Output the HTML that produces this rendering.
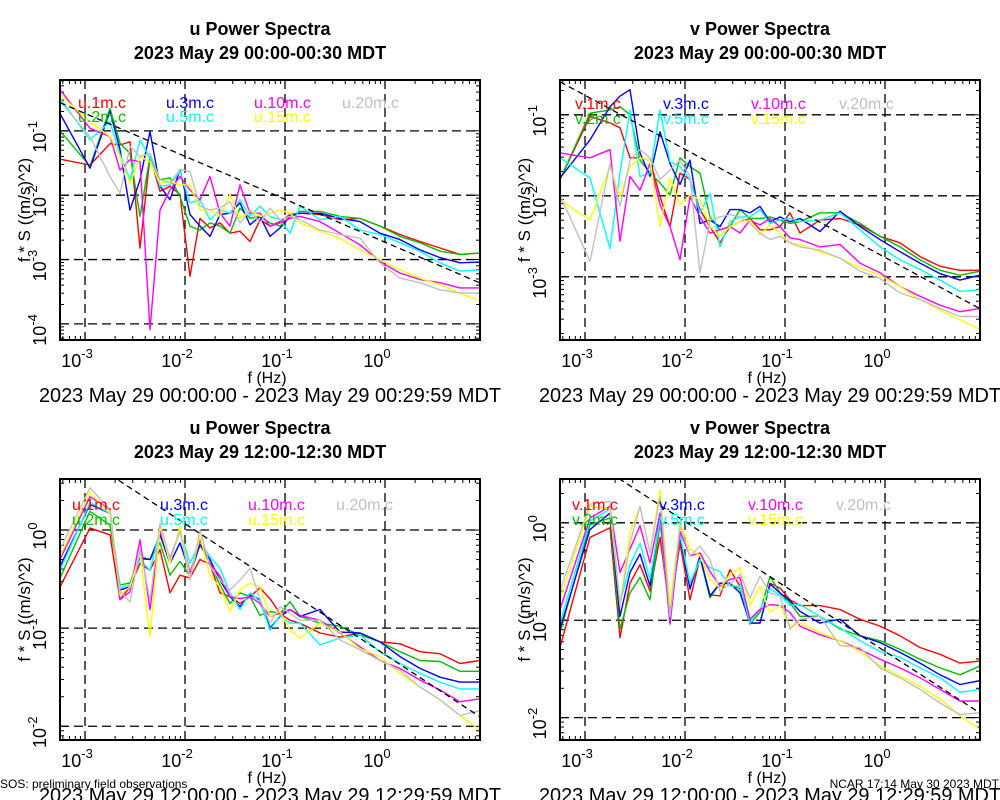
<!DOCTYPE html>
<html><head><meta charset="utf-8">
<style>
html,body{margin:0;padding:0;background:#fff;}
svg{display:block;font-family:"Liberation Sans",Arial,sans-serif;}
</style></head>
<body>
<svg id="chart" width="1000" height="800" viewBox="0 0 1000 800" xmlns="http://www.w3.org/2000/svg">
<rect x="0" y="0" width="1000" height="800" fill="#fff"/>
</svg>
<script>
// ---- Data (log10 frequency, log10 f*S) ----
const freqLog = [-3.25,-2.95,-2.75,-2.65,-2.55,-2.45,-2.35,-2.25,-2.15,-2.05,-1.95,-1.85,-1.75,-1.65,-1.55,-1.45,-1.35,-1.25,-1.15,-1.05,-0.95,-0.85,-0.65,-0.45,-0.25,-0.05,0.15,0.35,0.55,0.75,0.95];
const seriesHeights = ["1m","2m","3m","5m","10m","15m","20m"];
const xTickExps = [-3,-2,-1,0];

// Top-left: u 00:00
const uA_1m  = [-1.44,-1.53,-1.20,-1.22,-1.17,-2.82,-1.40,-1.94,-1.86,-1.99,-3.26,-2.36,-2.51,-2.43,-2.59,-2.56,-2.72,-2.38,-2.48,-2.41,-2.30,-2.28,-2.30,-2.38,-2.36,-2.48,-2.61,-2.72,-2.82,-2.92,-2.90];
const uA_2m  = [-1.00,-1.55,-0.65,-1.19,-1.35,-2.33,-1.40,-1.76,-1.73,-2.02,-2.48,-2.54,-2.43,-2.48,-2.59,-2.20,-2.36,-2.33,-2.43,-2.48,-2.33,-2.25,-2.25,-2.33,-2.36,-2.48,-2.64,-2.74,-2.87,-2.92,-2.90];
const uA_3m  = [-0.73,-1.58,-0.70,-1.29,-2.23,-1.76,-1.01,-1.86,-2.07,-1.60,-2.30,-2.48,-2.64,-2.30,-2.28,-2.12,-2.46,-2.33,-2.64,-2.51,-2.33,-2.28,-2.28,-2.36,-2.41,-2.59,-2.69,-2.85,-2.97,-3.05,-3.04];
const uA_5m  = [-0.49,-1.14,-0.86,-1.37,-1.76,-1.14,-1.42,-1.86,-1.84,-1.63,-2.12,-2.07,-2.38,-2.23,-2.28,-2.07,-2.33,-2.17,-2.33,-2.38,-2.59,-2.17,-2.38,-2.33,-2.54,-2.61,-2.74,-2.87,-3.05,-3.18,-3.16];
const uA_10m = [-0.36,-0.96,-1.09,-1.61,-1.45,-1.48,-4.09,-2.23,-1.92,-1.71,-1.92,-2.07,-1.71,-2.28,-2.48,-1.84,-2.28,-2.28,-2.48,-2.43,-2.36,-2.33,-2.41,-2.59,-2.77,-3.03,-3.21,-3.31,-3.36,-3.44,-3.44];
const uA_15m = [-0.44,-0.86,-1.09,-1.40,-1.81,-1.40,-1.48,-1.81,-1.79,-1.84,-1.84,-2.23,-2.23,-2.33,-1.99,-2.36,-2.23,-2.33,-2.28,-2.23,-2.28,-2.43,-2.56,-2.67,-2.85,-3.00,-3.16,-3.29,-3.39,-3.52,-3.65];
const uA_20m = [-0.54,-1.09,-1.71,-1.97,-1.24,-1.40,-1.35,-1.76,-1.81,-1.60,-1.63,-2.17,-2.23,-2.20,-2.10,-2.43,-2.23,-2.43,-2.20,-2.38,-2.33,-2.38,-2.54,-2.61,-2.67,-3.05,-3.29,-3.36,-3.47,-3.52,-3.52];

// Top-right: v 00:00
const vA_1m  = [-1.80,-1.02,-1.10,-1.16,-1.53,-1.53,-1.56,-2.01,-2.38,-1.72,-1.80,-2.17,-2.38,-2.58,-2.38,-2.32,-2.28,-2.42,-2.42,-2.38,-2.21,-2.46,-2.30,-2.28,-2.36,-2.50,-2.58,-2.75,-2.87,-2.92,-2.92];
const vA_2m  = [-1.80,-0.98,-0.94,-0.90,-1.00,-1.56,-1.72,-1.84,-1.99,-1.53,-1.64,-1.72,-2.26,-2.42,-2.38,-2.17,-2.28,-2.28,-2.26,-2.30,-2.34,-2.32,-2.21,-2.21,-2.34,-2.50,-2.63,-2.79,-2.92,-2.98,-2.93];
const vA_3m  = [-1.78,-1.31,-0.90,-0.77,-0.69,-1.47,-1.76,-1.21,-1.60,-1.86,-1.56,-2.34,-2.30,-2.38,-2.17,-2.17,-2.21,-2.13,-2.32,-2.26,-2.32,-2.28,-2.44,-2.19,-2.38,-2.54,-2.69,-2.83,-2.96,-3.04,-2.98];
const vA_5m  = [-1.53,-1.78,-2.65,-1.72,-0.94,-1.76,-1.72,-0.94,-1.58,-1.64,-1.80,-2.21,-1.97,-2.63,-2.32,-2.26,-2.26,-2.17,-2.34,-2.30,-2.28,-2.32,-2.30,-2.21,-2.42,-2.63,-2.79,-2.91,-3.04,-3.18,-3.16];
const vA_10m = [-1.47,-1.53,-1.43,-2.56,-1.76,-1.93,-1.60,-2.11,-2.38,-2.79,-2.01,-2.26,-2.46,-2.42,-2.38,-2.46,-2.30,-2.36,-2.28,-2.38,-2.52,-2.54,-2.63,-2.60,-2.83,-2.95,-3.12,-3.24,-3.35,-3.43,-3.39];
const vA_15m = [-2.05,-2.30,-1.64,-2.01,-1.64,-1.53,-1.56,-2.38,-1.78,-2.11,-1.99,-2.05,-2.38,-2.50,-2.38,-2.32,-2.30,-2.48,-2.36,-2.46,-2.58,-2.60,-2.69,-2.77,-2.89,-2.98,-3.12,-3.28,-3.41,-3.53,-3.65];
const vA_20m = [-1.99,-2.81,-1.60,-2.13,-1.56,-1.43,-1.53,-1.80,-1.68,-1.56,-1.76,-2.95,-2.30,-2.26,-2.23,-2.26,-2.34,-2.46,-2.54,-2.50,-2.58,-2.63,-2.67,-2.77,-2.93,-3.02,-3.20,-3.28,-3.39,-3.49,-3.49];

// Bottom-left: u 12:00
const uB_1m  = [-0.58,0.02,-0.05,-0.71,-0.58,-0.34,-0.41,-0.20,-0.64,-0.46,-0.49,-0.30,-0.35,-0.64,-0.68,-0.75,-0.68,-0.59,-0.70,-0.85,-0.92,-0.95,-1.05,-1.09,-1.05,-1.14,-1.16,-1.24,-1.26,-1.36,-1.33];
const uB_2m  = [-0.49,0.19,0.05,-0.56,-0.54,-0.27,-0.30,-0.13,-0.46,-0.32,-0.47,-0.15,-0.34,-0.56,-0.75,-0.64,-0.68,-0.87,-0.83,-0.85,-0.73,-0.88,-0.95,-0.98,-1.07,-1.14,-1.24,-1.33,-1.34,-1.44,-1.44];
const uB_3m  = [-0.37,0.26,0.17,-0.61,-0.58,-0.29,-0.30,-0.05,-0.34,-0.13,-0.44,-0.15,-0.30,-0.51,-0.68,-0.78,-0.66,-0.71,-1.00,-0.88,-0.81,-0.88,-0.81,-1.04,-1.05,-1.14,-1.29,-1.41,-1.50,-1.55,-1.55];
const uB_5m  = [-0.41,0.28,0.17,-0.59,-0.56,-0.30,-0.41,0.00,-0.29,0.00,-0.34,-0.12,-0.27,-0.39,-0.64,-0.81,-0.64,-0.73,-1.02,-0.87,-0.95,-0.95,-1.17,-1.10,-1.07,-1.24,-1.36,-1.46,-1.55,-1.62,-1.62];
const uB_10m = [-0.30,0.34,0.21,-0.71,-0.63,-0.10,-0.81,-0.01,-0.29,-0.01,-0.44,-0.10,-0.34,-0.47,-0.68,-0.70,-0.68,-0.75,-0.88,-0.85,-0.81,-0.87,-0.92,-1.05,-1.19,-1.33,-1.41,-1.53,-1.63,-1.75,-1.72];
const uB_15m = [-0.27,0.38,0.17,-0.66,-0.58,-0.24,-1.09,0.04,-0.34,0.04,-0.49,-0.06,-0.47,-0.58,-0.83,-0.61,-0.54,-0.58,-0.88,-0.83,-1.02,-1.10,-0.95,-1.04,-1.21,-1.29,-1.46,-1.60,-1.73,-1.89,-2.04];
const uB_20m = [-0.20,0.43,0.21,-0.63,-0.73,-0.20,-0.71,0.07,-0.30,-0.01,-0.51,0.00,-0.37,-0.51,-0.61,-0.51,-0.39,-0.71,-0.95,-0.78,-0.85,-0.92,-0.92,-1.12,-1.22,-1.33,-1.43,-1.60,-1.73,-1.89,-1.84];

// Bottom-right: v 12:00
const vB_1m  = [-1.28,-0.15,-0.05,-1.18,-0.62,-0.43,-0.70,-0.15,-0.92,-0.21,-0.79,-0.36,-0.74,-0.75,-0.48,-0.65,-1.03,-1.03,-0.62,-0.67,-0.79,-0.85,-0.85,-0.89,-0.99,-1.06,-1.16,-1.28,-1.35,-1.44,-1.42];
const vB_2m  = [-1.13,-0.02,0.05,-1.09,-0.72,-0.56,-0.79,0.00,-0.96,-0.14,-0.67,-0.36,-0.77,-0.62,-0.63,-0.68,-1.04,-0.92,-0.55,-0.72,-0.82,-0.96,-0.96,-1.09,-1.16,-1.21,-1.30,-1.40,-1.49,-1.56,-1.47];
const vB_3m  = [-1.09,-0.07,0.10,-0.96,-0.51,-0.32,-0.65,0.07,-0.99,-0.14,-0.68,-0.34,-0.75,-0.62,-0.62,-0.72,-1.03,-1.03,-0.63,-0.72,-0.80,-0.91,-1.03,-0.99,-1.16,-1.23,-1.33,-1.44,-1.56,-1.66,-1.62];
const vB_5m  = [-1.03,0.02,0.14,-0.82,-0.43,-0.21,-0.58,0.03,-1.04,-0.12,-0.62,-0.38,-0.46,-0.50,-0.65,-0.65,-1.03,-0.89,-0.68,-0.74,-0.85,-0.84,-0.96,-1.08,-1.21,-1.32,-1.38,-1.49,-1.59,-1.74,-1.71];
const vB_10m = [-0.89,0.05,0.17,-0.51,-0.27,-0.03,-0.41,0.10,-1.04,-0.09,-0.34,-0.31,-0.50,-0.65,-0.58,-0.56,-0.99,-0.89,-0.84,-0.85,-0.92,-1.06,-1.15,-1.21,-1.30,-1.40,-1.49,-1.59,-1.71,-1.83,-1.83];
const vB_15m = [-0.79,0.17,0.14,-0.84,-0.10,0.17,-0.31,0.34,-0.85,0.00,-0.27,-0.34,-0.58,-0.67,-0.53,-0.46,-0.85,-0.65,-0.92,-0.85,-1.06,-1.03,-1.13,-1.21,-1.32,-1.47,-1.57,-1.68,-1.81,-1.98,-2.12];
const vB_20m = [-0.70,0.19,0.22,-0.85,-0.21,0.17,-0.31,0.27,-0.96,-0.03,-0.34,-0.24,-0.38,-0.70,-0.63,-0.53,-0.77,-0.55,-0.72,-0.75,-1.09,-0.99,-0.96,-1.26,-1.28,-1.49,-1.59,-1.71,-1.85,-1.97,-1.95];

// reference -2/3 slope line: [intercept at f=1, slope]
const refLineA_u = [-2.73,-0.667];
const refLineA_v = [-2.76,-0.667];
const refLineB_u = [-1.27,-0.667];
const refLineB_v = [-1.32,-0.667];

const colors = ["#ff0000","#00c000","#0000ff","#00ffff","#ff00ff","#ffff00","#c0c0c0"];

const panels = [
  {key:"u-top", comp:"u", x0:60, y0:80, y1:340, ymax:-0.21, ymin:-4.25, yExps:[-1,-2,-3,-4], series:[uA_1m,uA_2m,uA_3m,uA_5m,uA_10m,uA_15m,uA_20m], ref:refLineA_u,
   title:"u Power Spectra", sub:"2023 May 29 00:00-00:30 MDT", range:"2023 May 29 00:00:00 - 2023 May 29 00:29:59 MDT", lx:[78,166,254,342], ly:[108,122]},
  {key:"v-top", comp:"v", x0:560, y0:80, y1:340, ymax:-0.57, ymin:-3.78, yExps:[-1,-2,-3], series:[vA_1m,vA_2m,vA_3m,vA_5m,vA_10m,vA_15m,vA_20m], ref:refLineA_v,
   title:"v Power Spectra", sub:"2023 May 29 00:00-00:30 MDT", range:"2023 May 29 00:00:00 - 2023 May 29 00:29:59 MDT", lx:[575,663,751,839], ly:[109,124]},
  {key:"u-bottom", comp:"u", x0:60, y0:479, y1:740, ymax:0.52, ymin:-2.14, yExps:[0,-1,-2], series:[uB_1m,uB_2m,uB_3m,uB_5m,uB_10m,uB_15m,uB_20m], ref:refLineB_u,
   title:"u Power Spectra", sub:"2023 May 29 12:00-12:30 MDT", range:"2023 May 29 12:00:00 - 2023 May 29 12:29:59 MDT", lx:[72,160,248,336], ly:[510,525]},
  {key:"v-bottom", comp:"v", x0:560, y0:479, y1:740, ymax:0.45, ymin:-2.23, yExps:[0,-1,-2], series:[vB_1m,vB_2m,vB_3m,vB_5m,vB_10m,vB_15m,vB_20m], ref:refLineB_v,
   title:"v Power Spectra", sub:"2023 May 29 12:00-12:30 MDT", range:"2023 May 29 12:00:00 - 2023 May 29 12:29:59 MDT", lx:[572,659,748,836], ly:[510,525]}
];

const NS = "http://www.w3.org/2000/svg";
const svg = document.getElementById("chart");
function mk(tag, attrs, parent) {
  const e = document.createElementNS(NS, tag);
  for (const k in attrs) e.setAttribute(k, attrs[k]);
  (parent || svg).appendChild(e);
  return e;
}
const XMIN = -3.25, XMAX = 0.95, W = 420;

panels.forEach(p => {
  const g = mk("g", {});
  
  
  const xs = lf => p.x0 + (lf - XMIN) / (XMAX - XMIN) * W;
  const ys = ly => p.y0 + (p.ymax - ly) / (p.ymax - p.ymin) * (p.y1 - p.y0);
  const cx = p.x0 + W / 2;
  const H = p.y1 - p.y0;

  const t1 = mk("text", {x: cx - 10, y: p.y0 - 45, "text-anchor": "middle", "font-size": 18, "font-weight": "bold"}, g);
  t1.textContent = p.title;
  
  
  const t2 = mk("text", {x: cx - 10, y: p.y0 - 21, "text-anchor": "middle", "font-size": 18, "font-weight": "bold"}, g);
  t2.textContent = p.sub;
  
  

  const cp = mk("clipPath", {id: "clip-" + p.key}, g);
  mk("rect", {x: p.x0, y: p.y0, width: W, height: H}, cp);

  const gg = mk("g", {stroke: "#000", "stroke-width": 1.3, "stroke-dasharray": "9,5", fill: "none"}, g);
  
  
  xTickExps.forEach(e => mk("line", {x1: xs(e), x2: xs(e), y1: p.y0, y2: p.y1}, gg));
  p.yExps.forEach(e => mk("line", {x1: p.x0, x2: p.x0 + W, y1: ys(e), y2: ys(e)}, gg));

  const tk = mk("g", {stroke: "#000", "stroke-width": 1}, g);
  
  
  for (let d = -4; d <= 1; d++) for (let m = 1; m <= 9; m++) {
    const lf = d + Math.log10(m);
    if (lf < XMIN || lf > XMAX) continue;
    const L = m === 1 ? 8 : 4;
    mk("line", {x1: xs(lf), x2: xs(lf), y1: p.y1, y2: p.y1 - L}, tk);
    mk("line", {x1: xs(lf), x2: xs(lf), y1: p.y0, y2: p.y0 + L}, tk);
  }
  for (let d = -5; d <= 1; d++) for (let m = 1; m <= 9; m++) {
    const ly = d + Math.log10(m);
    if (ly < p.ymin || ly > p.ymax) continue;
    const L = m === 1 ? 8 : 4;
    mk("line", {x1: p.x0, x2: p.x0 + L, y1: ys(ly), y2: ys(ly)}, tk);
    mk("line", {x1: p.x0 + W, x2: p.x0 + W - L, y1: ys(ly), y2: ys(ly)}, tk);
  }

  const sg = mk("g", {"clip-path": "url(#clip-" + p.key + ")", fill: "none", "stroke-width": 1.4, "stroke-linejoin": "round"}, g);
  p.series.forEach((vals, i) => {
    const d = vals.map((v, k) => (k ? "L" : "M") + xs(freqLog[k]).toFixed(1) + "," + ys(v).toFixed(1)).join("");
    const path = mk("path", {d: d, stroke: colors[i]}, sg);
    
    
  });
  const rl = mk("line", {x1: xs(XMIN), y1: ys(p.ref[0] + p.ref[1] * XMIN), x2: xs(XMAX), y2: ys(p.ref[0] + p.ref[1] * XMAX), stroke: "#000", "stroke-width": 1.3, "stroke-dasharray": "6,4"}, sg);
  
  

  seriesHeights.forEach((h, i) => {
    const col = Math.floor(i / 2);
    const row = i % 2;
    const lt = mk("text", {x: p.lx[col], y: p.ly[row], "font-size": 16, fill: colors[i]}, g);
    lt.textContent = p.comp + "." + h + ".c";
    
    
  });

  const fr = mk("rect", {x: p.x0, y: p.y0, width: W, height: H, fill: "none", stroke: "#000", "stroke-width": 2}, g);
  
  

  xTickExps.forEach(e => {
    const t = mk("text", {x: xs(e) - 8, y: p.y1 + 27, "text-anchor": "middle", "font-size": 18}, g);
    t.textContent = "10";
    const s = mk("tspan", {dx: 0, dy: -9, "font-size": 13}, t);
    s.textContent = String(e);
    
    
  });
  const xt = mk("text", {x: cx - 3, y: p.y1 + 43, "text-anchor": "middle", "font-size": 16}, g);
  xt.textContent = "f (Hz)";
  
  
  const rt = mk("text", {x: cx, y: p.y1 + 62, "text-anchor": "middle", "font-size": 20, textLength: 462, lengthAdjust: "spacingAndGlyphs"}, g);
  rt.textContent = p.range;
  
  

  p.yExps.forEach(e => {
    const y = ys(e);
    const t = mk("text", {x: 0, y: 0, "text-anchor": "middle", "font-size": 18, transform: "translate(" + (p.x0 - 14) + "," + (y + 6) + ") rotate(-90)"}, g);
    t.textContent = "10";
    const s = mk("tspan", {dy: -9, "font-size": 13}, t);
    s.textContent = String(e);
    
    
  });
  const yt = mk("text", {x: 0, y: 0, "text-anchor": "middle", "font-size": 17, transform: "translate(" + (p.x0 - 30) + "," + (p.y0 + H * 0.5) + ") rotate(-90)"}, g);
  yt.textContent = "f * S ((m/s)^2)";
  
  
});

const f1 = mk("text", {x: 0, y: 788, "font-size": 12});
f1.textContent = "SOS: preliminary field observations";


const f2 = mk("text", {x: 999, y: 788, "font-size": 12, "text-anchor": "end"});
f2.textContent = "NCAR 17:14 May 30 2023 MDT";


</script>
</body></html>
